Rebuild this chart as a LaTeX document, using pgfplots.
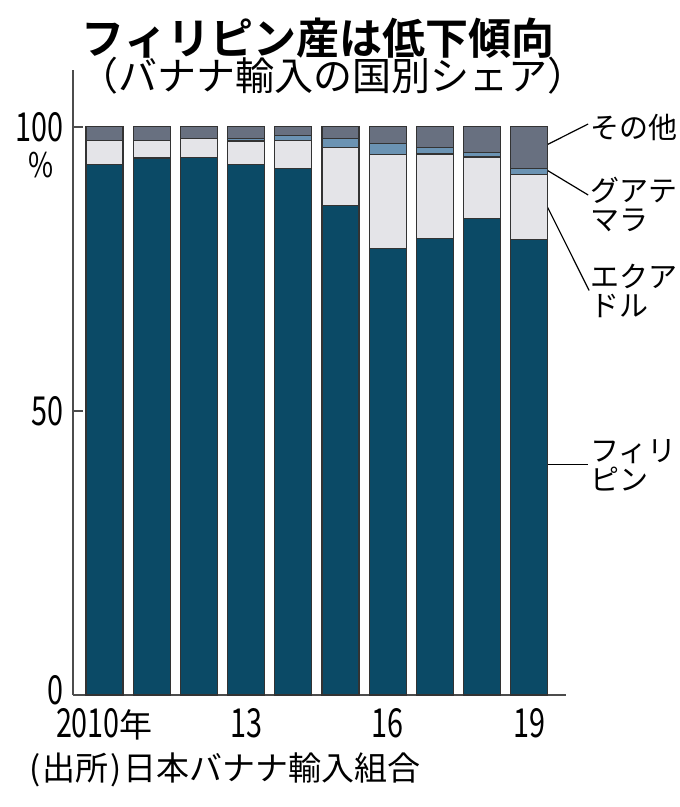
\documentclass[border=0pt]{standalone}
\usepackage{pgfplots}
\pgfplotsset{compat=1.18}
\usepackage{pgfplotstable}
\usepackage{fontspec}
\usepackage{graphicx}
\setmainfont{Noto Sans CJK JP}[BoldFont={Noto Sans CJK JP Bold}]
\definecolor{phil}{HTML}{0B4A66}
\definecolor{ecu}{HTML}{E4E4E8}
\definecolor{gua}{HTML}{6B93B3}
\definecolor{oth}{HTML}{687080}
\definecolor{edge}{HTML}{333333}
\newcommand\nm[1]{\scalebox{0.72}[1]{\fontsize{40}{40}\selectfont #1}}
\pgfplotstableread{
yr phil ecu gua oth
0 93.4 4.2 0.0 2.4
1 94.5 3.1 0.0 2.4
2 94.6 3.3 0.0 2.1
3 93.3 4.2 0.5 2.0
4 92.6 5.0 0.9 1.5
5 86.1 10.3 1.6 2.0
6 78.6 16.5 1.9 3.0
7 80.3 14.9 1.1 3.7
8 83.8 10.9 0.8 4.5
9 80.1 11.5 1.1 7.3
}\datatable
\begin{document}
\begin{tikzpicture}
\path[use as bounding box] (0pt,0pt) rectangle (680pt,807pt);
\node[font=\bfseries\fontsize{43}{43}\selectfont] at (318pt,769pt) {フィリピン産は低下傾向};
\node[font=\fontsize{39}{39}\selectfont] at (333pt,731pt) {（バナナ輸入の国別シェア）};
\node[anchor=west, font=\fontsize{33}{33}\selectfont, inner sep=0pt] at (29pt,37pt) {(\kern2pt 出所\kern2pt)\kern2pt 日本バナナ輸入組合};
\begin{axis}[
  at={(73pt,112pt)}, anchor=south west,
  scale only axis, width=493pt, height=625pt,
  xmin=-0.667, xmax=9.78, ymin=0, ymax=110,
  axis x line*=bottom, axis y line*=left,
  axis line style={draw=black!70, line width=1.5pt},
  ybar stacked, bar width=37pt,
  clip=false,
  xtick={0,3,6,9},
  xticklabels={\nm{2010}\fontsize{33}{33}\selectfont 年, \nm{13}, \nm{16}, \nm{19}},
  xtick style={draw=none},
  xticklabel style={anchor=north, inner sep=0pt, yshift=-13pt},
  ytick={0,50,100},
  yticklabels={\raisebox{-10pt}[0pt][0pt]{\nm{0}},\nm{50},\nm{100}},
  major tick length=10pt,
  tick align=inside,
  ytick style={draw=black!70, line width=1.5pt},
  yticklabel style={anchor=east, inner sep=0pt, xshift=-9pt},
]
\addplot[fill=phil, draw=edge, line width=1.2pt] table[x=yr, y=phil] {\datatable};
\addplot[fill=ecu, draw=edge, line width=1.2pt] table[x=yr, y=ecu] {\datatable};
\addplot[fill=gua, draw=edge, line width=1.2pt] table[x=yr, y=gua] {\datatable};
\addplot[fill=oth, draw=edge, line width=1.2pt] table[x=yr, y=oth] {\datatable};
\node[font=\fontsize{34}{34}\selectfont] at (axis cs:-1.345,93.2) {\scalebox{0.8}[1]{\%}};
\draw[black, line width=1.2pt] (axis cs:9.392,96.9) -- (axis cs:10.25,100.5);
\draw[black, line width=1.2pt] (axis cs:9.392,92.3) -- (axis cs:10.25,88.0);
\draw[black, line width=1.2pt] (axis cs:9.392,85.8) -- (axis cs:10.27,71.2);
\draw[black, line width=1.2pt] (axis cs:9.392,40.5) -- (axis cs:10.25,40.5);
\node[anchor=west, inner sep=0pt, font=\fontsize{29}{29}\selectfont] at (axis cs:10.29,99.9) {その他};
\node[anchor=west, inner sep=0pt, font=\fontsize{29}{29}\selectfont, align=left] at (axis cs:10.29,86.3) {グアテ\\マラ};
\node[anchor=west, inner sep=0pt, font=\fontsize{29}{29}\selectfont, align=left] at (axis cs:10.29,71.2) {エクア\\ドル};
\node[anchor=west, inner sep=0pt, font=\fontsize{29}{29}\selectfont, align=left] at (axis cs:10.29,40.5) {フィリ\\ピン};
\end{axis}
\end{tikzpicture}
\end{document}
